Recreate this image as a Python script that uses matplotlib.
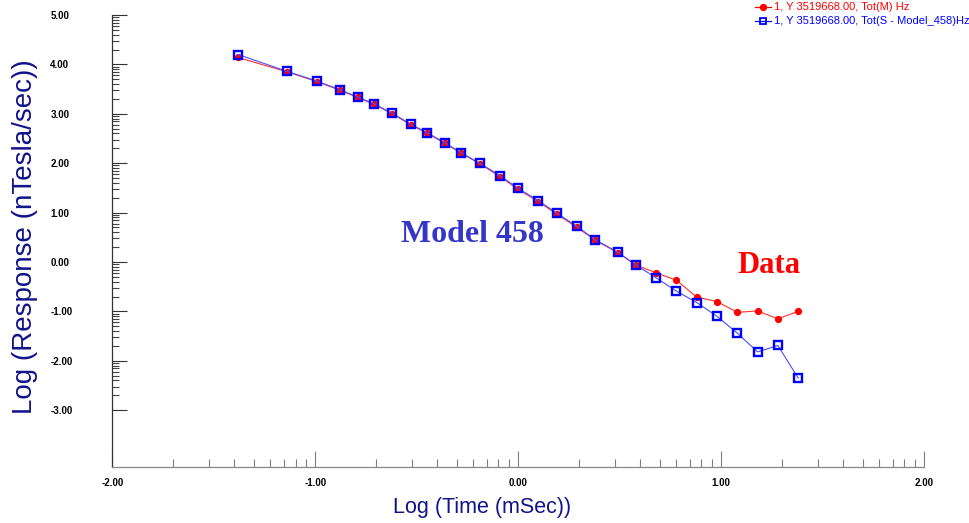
import numpy as np
import matplotlib
matplotlib.use("Agg")
import matplotlib.pyplot as plt
from matplotlib.lines import Line2D
from matplotlib.ticker import FixedLocator, FormatStrFormatter

plt.rcParams['font.family'] = ['Liberation Sans', 'DejaVu Sans']
plt.rcParams['axes.unicode_minus'] = False

# log10 of gate times (mSec)
log_time = [-1.38, -1.14, -0.99, -0.88, -0.79, -0.71, -0.62, -0.53, -0.45, -0.36,
            -0.28, -0.19, -0.09, 0.00, 0.10, 0.19, 0.29, 0.38, 0.49, 0.58,
            0.68, 0.78, 0.88, 0.98, 1.08, 1.18, 1.28, 1.38]

# measured decay, Tot(M) Hz
resp_measured = [4.14, 3.85, 3.65, 3.48, 3.33, 3.19, 3.00, 2.78, 2.61, 2.40,
                 2.20, 1.99, 1.73, 1.47, 1.22, 0.97, 0.70, 0.44, 0.19, -0.06,
                 -0.22, -0.37, -0.71, -0.80, -1.02, -0.99, -1.15, -1.00]

# synthetic decay from Model 458
resp_model = [4.20, 3.86, 3.66, 3.49, 3.34, 3.20, 3.01, 2.79, 2.62, 2.41,
              2.21, 2.00, 1.75, 1.49, 1.24, 0.99, 0.72, 0.45, 0.20, -0.06,
              -0.32, -0.59, -0.82, -1.10, -1.44, -1.82, -1.69, -2.35]

legend_measured = "1, Y 3519668.00, Tot(M) Hz"
legend_model = "1, Y 3519668.00, Tot(S - Model_458)Hz"

W, H = 969, 523
fig = plt.figure(figsize=(W / 100, H / 100), dpi=100)
ax = fig.add_axes([112.3 / W, 1 - 467 / H, (924 - 112.3) / W, (467 - 15) / H])

ax.plot(log_time, resp_measured, color='#ff3030', lw=0.8, marker='o', ms=4.2,
        mfc='#ff0000', mec='#ff0000', zorder=2, clip_on=False)
ax.plot(log_time, resp_model, color='#4b4bff', lw=0.8, marker='s', ms=5.3,
        mfc='none', mec='#0000ff', mew=1.7, zorder=3, clip_on=False)

ax.set_xlim(-2, 2)
ax.set_ylim(-4.15, 5.0)

# log-style minor ticks inside every unit
xminor = [d + np.log10(k) for d in range(-2, 2) for k in range(2, 10)]
yminor = [d + np.log10(k) for d in range(-3, 5) for k in range(2, 10)]
ax.xaxis.set_major_locator(FixedLocator([-2, -1, 0, 1, 2]))
ax.xaxis.set_minor_locator(FixedLocator(xminor))
ax.yaxis.set_major_locator(FixedLocator(range(-3, 6)))
ax.yaxis.set_minor_locator(FixedLocator(yminor))
ax.xaxis.set_major_formatter(FormatStrFormatter('%.2f'))
ax.yaxis.set_major_formatter(FormatStrFormatter('%.2f'))

ax.tick_params(axis='x', which='major', direction='in', length=11.5, width=0.8,
               color='#808080', pad=8, labelsize=7)
ax.tick_params(axis='x', which='minor', direction='in', length=5.8, width=0.8,
               color='#808080')
ax.tick_params(axis='y', which='major', direction='in', length=10.8, width=0.8,
               color='#333333', pad=44.6, labelsize=7)
ax.tick_params(axis='y', which='minor', direction='in', length=5, width=0.8,
               color='#444444')
for lab in ax.get_xticklabels() + ax.get_yticklabels():
    lab.set_fontweight('bold')
for lab in ax.get_yticklabels():
    lab.set_ha('left')

for s in ('top', 'right'):
    ax.spines[s].set_visible(False)
ax.spines['left'].set_color('#333333')
ax.spines['bottom'].set_color('#888888')
ax.spines['left'].set_linewidth(0.9)
ax.spines['bottom'].set_linewidth(0.9)

navy = '#12128a'
fig.text(482 / W, 1 - 508 / H, "Log (Time (mSec))", ha='center', va='center',
         fontsize=15.5, color=navy)
fig.text(25 / W, 1 - 237 / H, "Log (Response (nTesla/sec))", ha='center',
         va='center', rotation=90, fontsize=20, color=navy)

ax.text(-0.577, 0.40, "Model 458", fontsize=23, fontweight='bold',
        family='Liberation Serif', color='#3535c8', va='baseline')
ax.text(1.079, -0.23, "Data", fontsize=22, fontweight='bold',
        family='Liberation Serif', color='#ff0000', va='baseline')

# series key in the top right corner
for ypix, col, mk, mfc, txt in [(6.7, '#ff0000', 'o', '#ff0000', legend_measured),
                                (21, '#0000ff', 's', 'none', legend_model)]:
    yf = 1 - ypix / H
    fig.add_artist(Line2D([755 / W, 771 / W], [yf, yf], color=col, lw=0.9))
    fig.add_artist(Line2D([763 / W], [yf], marker=mk, ms=4, mfc=mfc, mec=col,
                          mew=1.3, color=col))
    fig.text(774 / W, yf, txt, fontsize=8, color=col, va='center', ha='left')

fig.savefig("out.png", dpi=100)
